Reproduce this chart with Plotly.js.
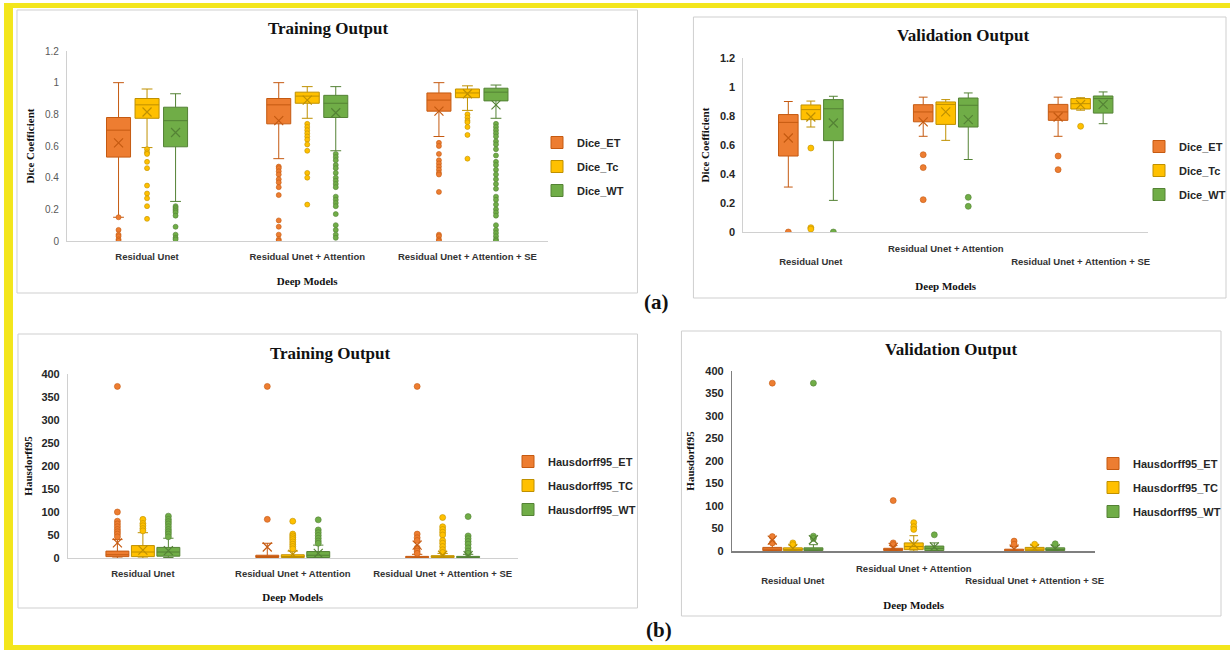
<!DOCTYPE html>
<html><head><meta charset="utf-8">
<script src="https://cdn.plot.ly/plotly-3.0.1.min.js"></script>
<style>html,body{margin:0;padding:0;background:#fff;}#chart{width:1231px;height:650px;}</style>
</head><body><div id="chart"></div>
<script>
// ---------------- data ----------------
const models = ["Residual Unet", "Residual Unet + Attention", "Residual Unet + Attention + SE"];
const diceNames = ["Dice_ET", "Dice_Tc", "Dice_WT"];
const hdNames = ["Hausdorff95_ET", "Hausdorff95_TC", "Hausdorff95_WT"];

// box stats per model: [lowerfence, q1, median, q3, upperfence, mean]
// (a) Training Dice
const trDiceET = [[0.15,0.53,0.70,0.78,1.00,0.62],[0.52,0.74,0.86,0.90,1.00,0.76],[0.66,0.82,0.89,0.935,1.00,0.82]];
const trDiceTC = [[0.59,0.775,0.86,0.90,0.96,0.815],[0.775,0.87,0.915,0.94,0.975,0.89],[0.825,0.905,0.935,0.96,0.98,0.93]];
const trDiceWT = [[0.25,0.595,0.76,0.845,0.93,0.685],[0.57,0.78,0.87,0.92,0.975,0.81],[0.775,0.885,0.94,0.965,0.985,0.86]];
const trDiceET_out = [[0.15,0.07,0.04,0.03,0.01,0.0],[0.47,0.46,0.44,0.42,0.39,0.37,0.34,0.29,0.13,0.09,0.04,0.01,0.0],[0.62,0.60,0.55,0.51,0.49,0.47,0.45,0.43,0.42,0.31,0.04,0.03,0.01,0.0]];
const trDiceTC_out = [[0.58,0.56,0.55,0.50,0.46,0.35,0.30,0.27,0.22,0.14],[0.74,0.72,0.70,0.68,0.66,0.64,0.61,0.57,0.43,0.40,0.23],[0.80,0.78,0.76,0.75,0.72,0.67,0.52]];
const trDiceWT_out = [[0.22,0.21,0.20,0.19,0.18,0.16,0.09,0.04,0.02,0.01],[0.55,0.53,0.51,0.48,0.46,0.43,0.40,0.38,0.36,0.34,0.28,0.26,0.24,0.22,0.17,0.10,0.07,0.04,0.02],[0.74,0.72,0.70,0.68,0.66,0.63,0.61,0.58,0.54,0.50,0.48,0.45,0.42,0.39,0.36,0.33,0.28,0.26,0.23,0.20,0.18,0.16,0.10,0.07,0.05,0.03,0.01,0.0]];
// (a) Validation Dice
const vaDiceET = [[0.31,0.524,0.756,0.81,0.90,0.648],[0.66,0.76,0.828,0.878,0.93,0.76],[0.66,0.77,0.828,0.88,0.93,0.793]];
const vaDiceTC = [[0.724,0.775,0.844,0.876,0.903,0.793],[0.632,0.742,0.88,0.897,0.913,0.828],[0.84,0.848,0.885,0.92,0.926,0.878]];
const vaDiceWT = [[0.218,0.63,0.85,0.913,0.936,0.752],[0.50,0.724,0.874,0.924,0.959,0.775],[0.747,0.82,0.92,0.938,0.966,0.88]];
const vaDiceET_out = [[0.0],[0.533,0.444,0.223],[0.524,0.43]];
const vaDiceTC_out = [[0.579,0.03,0.02],[],[0.729]];
const vaDiceWT_out = [[0.0],[0.239,0.177],[]];
// (b) Training Hausdorff95
const trHdET = [[0,3,7,15,40,33],[0,1,3,6,32,24],[0,0.5,2,3.5,8,28]];
const trHdTC = [[0,3,13,27,55,17],[0,1,3,7,15,8],[0,1,2,5,10,6]];
const trHdWT = [[1,4,13,23,43,16],[0,1,6,14,28,10],[0,1,2,3.5,8,5]];
const trHdET_out = [[373,100,80,74,68,62,57,52,46],[373,84],[373,52,44,38,22,15,10]];
const trHdTC_out = [[84,75,70,64,59],[80,52,48,44,40,35,30,25,20],[88,68,62,56,50,38,32,25,18,12]];
const trHdWT_out = [[91,84,79,74,68,62,57,52,46],[83,61,55,49,43,37,32],[90,48,42,36,30,22,15,10]];
// (b) Validation Hausdorff95
const vaHdET = [[0,1,4,8,16,24],[0,1,3,6,12,8],[0,0.5,2,4,10,4]];
const vaHdTC = [[0,1,3,7,12,6],[0,3,10,18,34,15],[0,1,4,8,12,6]];
const vaHdWT = [[0,1,4,7,14,25],[0,1,6,11,18,9],[0,1,3,7,12,5]];
const vaHdET_out = [[373,32,18],[112,18,14],[22,15]];
const vaHdTC_out = [[18,14],[63,54,48],[15]];
const vaHdWT_out = [[373,33,28],[36],[16]];

// ---------------- styling ----------------
const W = 1231, H = 650;
const fx = p => p / W, fy = p => 1 - p / H;
const fills = ["#ED7D31", "#FFC000", "#70AD47"];
const edges = ["#C55A11", "#BF9000", "#548235"];
const SANS = "Liberation Sans Narrow, Liberation Sans, Arial, sans-serif";
const SERIF = "Liberation Serif, Times New Roman, serif";

const panels = [
  {xa:'x', ya:'y', xd:[67,548], yd:[51,241], range:[0,1.2], dtick:0.2, off:0.178, bw:0.15, leg:'legend', ms:5,
   names:diceNames, stats:[trDiceET,trDiceTC,trDiceWT], outs:[trDiceET_out,trDiceTC_out,trDiceWT_out],
   ytitle:'Dice Coefficient', stagger:false, legPos:[537,128], tso:8, xso:15, ytf:{color:'#595959', size:10}},
  {xa:'x2', ya:'y2', xd:[744,1149], yd:[58,232], range:[0,1.2], dtick:0.2, off:0.167, bw:0.145, leg:'legend2', ms:6,
   names:diceNames, stats:[vaDiceET,vaDiceTC,vaDiceWT], outs:[vaDiceET_out,vaDiceTC_out,vaDiceWT_out],
   ytitle:'Dice Coefficient', stagger:true, legPos:[1140,132], tso:8, xso:16, ytf:{color:'#262626', size:11, weight:'bold'}},
  {xa:'x3', ya:'y3', xd:[68,518], yd:[374,558], range:[0,400], dtick:50, off:0.17, bw:0.153, leg:'legend3', ms:6,
   names:hdNames, stats:[trHdET,trHdTC,trHdWT], outs:[trHdET_out,trHdTC_out,trHdWT_out],
   ytitle:'Hausdorff95', stagger:false, legPos:[508,447], tso:6, xso:14, ytf:{color:'#262626', size:11, weight:'bold'}},
  {xa:'x4', ya:'y4', xd:[733,1096], yd:[371,551], range:[0,400], dtick:50, off:0.17, bw:0.157, leg:'legend4', ms:6,
   names:hdNames, stats:[vaHdET,vaHdTC,vaHdWT], outs:[vaHdET_out,vaHdTC_out,vaHdWT_out],
   ytitle:'Hausdorff95', stagger:true, legPos:[1093,449], tso:8, xso:16, ytf:{color:'#262626', size:11, weight:'bold'}}
];

const traces = [];
const layout = {
  width: W, height: H, margin:{l:0,r:0,t:0,b:0},
  paper_bgcolor:'#ffffff', plot_bgcolor:'rgba(0,0,0,0)',
  showlegend: true, shapes: [], annotations: []
};

panels.forEach((P, pi) => {
  for (let k = 0; k < 3; k++) {
    const xs = models.map((_, i) => i + (k - 1) * P.off);
    const st = P.stats[k], ou = P.outs[k];
    traces.push({
      type:'box', orientation:'v', x: xs,
      lowerfence: st.map(s => s[0]), q1: st.map(s => s[1]), median: st.map(s => s[2]),
      q3: st.map(s => s[3]), upperfence: st.map(s => s[4]),
      width: P.bw, whiskerwidth: 0.45, boxpoints: false,
      name: P.names[k], fillcolor: fills[k], line:{color: edges[k], width:1},
      xaxis: P.xa, yaxis: P.ya, legend: P.leg, legendgroup: P.leg + '_' + k, hoverinfo:'skip'
    });
    const ox = [], oy = [];
    ou.forEach((arr, i) => arr.forEach(v => { ox.push(xs[i]); oy.push(v); }));
    traces.push({
      type:'scatter', mode:'markers', x: ox, y: oy, showlegend:false,
      marker:{color: fills[k], size: P.ms, line:{color: edges[k], width:0.6}},
      xaxis: P.xa, yaxis: P.ya, legend: P.leg, legendgroup: P.leg + '_' + k, hoverinfo:'skip'
    });
    traces.push({
      type:'scatter', mode:'markers', x: xs, y: st.map(s => s[5]), showlegend:false,
      marker:{symbol:'x-thin-open', size: 9, color: edges[k], line:{color: edges[k], width:1.2}},
      xaxis: P.xa, yaxis: P.ya, legend: P.leg, legendgroup: P.leg + '_' + k, hoverinfo:'skip'
    });
  }
  const sfx = pi === 0 ? '' : String(pi + 1);
  const dark = pi === 3;
  layout['xaxis' + sfx] = {
    domain:[fx(P.xd[0]), fx(P.xd[1])], anchor: P.ya, range:[-0.5, 2.5],
    tickvals:[0,1,2], tickangle: 0,
    ticktext: P.stagger ? ['<br>' + models[0], models[1], '<br>' + models[2]] : models,
    tickfont:{family:SANS, size:9.5, color:'#333333', weight:'bold'},
    showgrid:false, zeroline:false, showline:true, linecolor: dark ? '#7f7f7f' : '#d0d0d0', linewidth: dark ? 1.5 : 1,
    ticks:'', ticklabelstandoff: P.stagger ? 8 : 7, fixedrange:true,
    title:{text:'Deep Models', font:{family:SERIF, size:11, color:'#111', weight:'bold'}, standoff: P.xso}
  };
  layout['yaxis' + sfx] = {
    domain:[fy(P.yd[1]), fy(P.yd[0])], anchor: P.xa, range: P.range, tick0:0, dtick: P.dtick,
    tickfont: Object.assign({family:SANS}, P.ytf),
    showgrid:false, zeroline:false, showline:true, linecolor: dark ? '#7f7f7f' : '#d0d0d0', linewidth: dark ? 1.5 : 1,
    ticks:'', ticklabelstandoff: 5, fixedrange:true,
    title:{text: P.ytitle, font:{family:SERIF, size:11, color:'#111', weight:'bold'}, standoff: P.tso}
  };
  layout[P.leg] = {
    x: fx(P.legPos[0]), y: fy(P.legPos[1]), xanchor:'left', yanchor:'top',
    font:{family:SANS, size:11, color:'#262626', weight:'bold'},
    bgcolor:'rgba(0,0,0,0)', traceorder:'grouped', tracegroupgap: 5, itemclick:false
  };
});

// panel frames
const frames = [[17,10,638,293],[694,17,1227,298],[18,334,638,608],[682,331,1222,616]];
frames.forEach(f => layout.shapes.push({type:'rect', xref:'paper', yref:'paper',
  x0:fx(f[0]), x1:fx(f[2]), y0:fy(f[3]), y1:fy(f[1]), line:{color:'#cfcfcf', width:1}, layer:'below'}));
// yellow outer frame
const yel = '#F3E61C';
[[4,3,13,650],[4,3,1231,8],[4,645,1231,650]].forEach(r => layout.shapes.push({type:'rect', xref:'paper', yref:'paper',
  x0:fx(r[0]), x1:fx(r[2]), y0:fy(r[3]), y1:fy(r[1]), fillcolor:yel, line:{width:0}, layer:'below'}));

// titles
const titles = [["Training Output",328,28],["Validation Output",964,36],["Training Output",330,353],["Validation Output",952,349]];
titles.forEach(t => layout.annotations.push({text:t[0], xref:'paper', yref:'paper', x:fx(t[1]), y:fy(t[2]),
  xanchor:'center', yanchor:'middle', showarrow:false, font:{family:SERIF, size:17, color:'#111', weight:'bold'}}));
[["(a)",657,302],["(b)",660,630]].forEach(t => layout.annotations.push({text:t[0], xref:'paper', yref:'paper',
  x:fx(t[1]), y:fy(t[2]), xanchor:'center', yanchor:'middle', showarrow:false,
  font:{family:SERIF, size:21, color:'#111', weight:'bold'}}));

Plotly.newPlot('chart', traces, layout, {displayModeBar:false, staticPlot:true});
</script></body></html>
